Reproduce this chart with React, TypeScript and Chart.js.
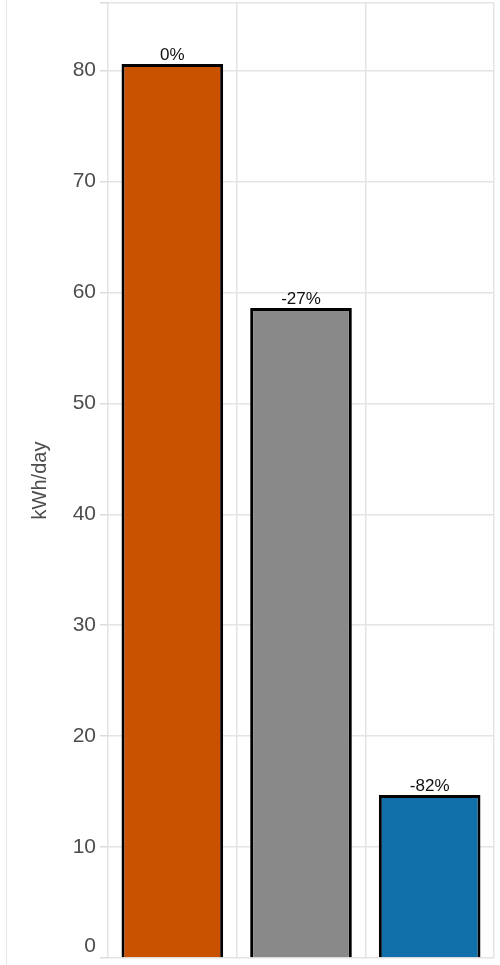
import React, { useEffect, useRef } from "react";
import { Chart, registerables } from "chart.js";

Chart.register(...registerables);

const categories = ["Baseline", "Scenario A", "Scenario B"];
const values = [80.6, 58.6, 14.7];
const changeLabels = ["0%", "-27%", "-82%"];
const barColors = ["#C85200", "#898989", "#1170AA"];
const yTicks = [0, 10, 20, 30, 40, 50, 60, 70, 80];
const yMax = 86.1;
const yTitle = "kWh/day";

const FONT = "'Liberation Sans', Arial, sans-serif";

const labelPlugin = {
  id: "barLabels",
  afterDatasetsDraw(chart: any) {
    const ctx = chart.ctx;
    const meta = chart.getDatasetMeta(0);
    ctx.save();
    ctx.font = `17px ${FONT}`;
    ctx.fillStyle = "#111";
    ctx.textAlign = "center";
    ctx.textBaseline = "alphabetic";
    meta.data.forEach((bar: any, i: number) => {
      ctx.fillText(changeLabels[i], bar.x, bar.y - 4);
    });
    // zero tick label, lifted so it is not clipped at the canvas bottom
    const y = chart.scales.y;
    ctx.font = `21px ${FONT}`;
    ctx.fillStyle = "#4d4d4d";
    ctx.textAlign = "right";
    ctx.textBaseline = "bottom";
    ctx.fillText(String(yTicks[0]), y.right - 12, y.getPixelForValue(yTicks[0]) - 1);
    ctx.restore();
  },
};

export default function App() {
  const ref = useRef<HTMLCanvasElement | null>(null);
  useEffect(() => {
    if (!ref.current) return;
    const chart = new Chart(ref.current, {
      type: "bar",
      data: {
        labels: categories,
        datasets: [
          {
            data: values,
            backgroundColor: barColors,
            borderColor: "#000",
            borderWidth: 3,
            barPercentage: 0.79,
            categoryPercentage: 1,
          },
        ],
      },
      options: {
        animation: false,
        responsive: false,
        maintainAspectRatio: false,
        layout: { padding: { top: 3, bottom: 7, right: 6, left: 0 } },
        plugins: { legend: { display: false }, tooltip: { enabled: false } },
        scales: {
          x: {
            offset: true,
            grid: { offset: true, color: "#e4e4e4", lineWidth: 1.5, drawTicks: false },
            border: { display: false },
            ticks: { display: false },
          },
          y: {
            min: 0,
            max: yMax,
            afterFit(scale: any) {
              scale.width = 108;
              scale.paddingTop = 0;
              scale.paddingBottom = 0;
            },
            afterBuildTicks(scale: any) {
              scale.ticks = [...yTicks, yMax].map((v) => ({ value: v }));
            },
            grid: { color: "#e4e4e4", lineWidth: 1.5, tickLength: 8, tickColor: "#dcdcdc" },
            border: { display: false },
            ticks: {
              padding: 4,
              color: "#4d4d4d",
              font: { size: 21, family: FONT },
              callback: (v: any) =>
                yTicks.includes(Number(v)) && Number(v) !== yTicks[0] ? String(v) : "",
            },
            title: {
              display: true,
              text: yTitle,
              color: "#4d4d4d",
              font: { size: 20, family: FONT },
              padding: { top: 28, bottom: 0 },
            },
          },
        },
      },
      plugins: [labelPlugin],
    });
    return () => chart.destroy();
  }, []);
  return (
    <div style={{ position: "absolute", left: 0, top: 0, width: 500, height: 965, background: "#fff" }}>
      <div style={{ position: "absolute", left: 6, top: 0, width: 1, height: 965, background: "#e8e8e8" }} />
      <canvas ref={ref} width={500} height={965} style={{ position: "absolute", left: 0, top: 0, width: 500, height: 965 }} />
    </div>
  );
}
